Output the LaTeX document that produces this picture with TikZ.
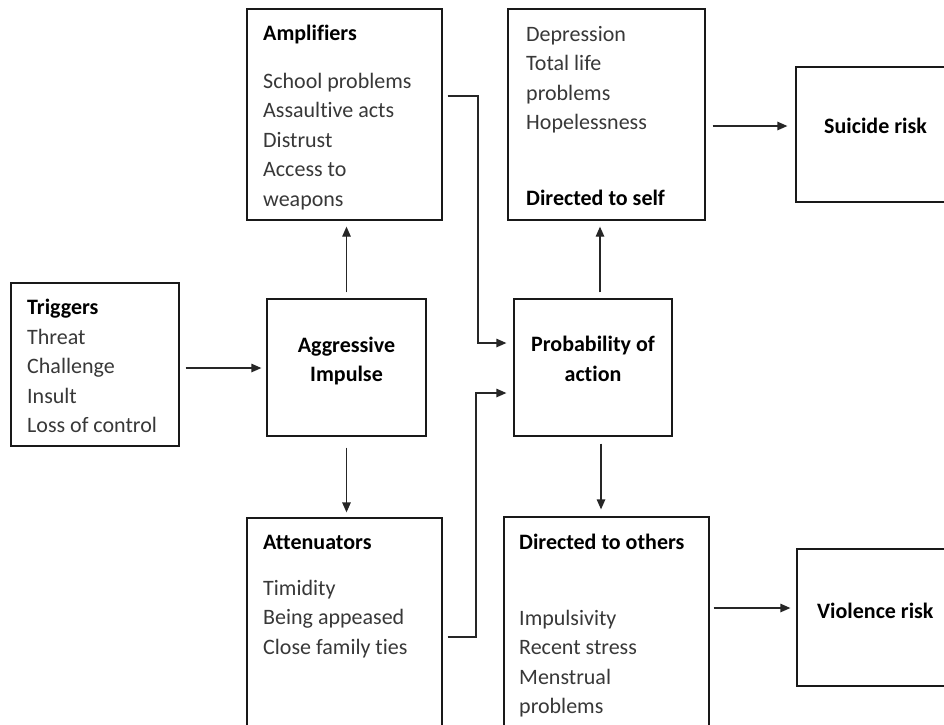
\documentclass[tikz,border=0pt]{standalone}
\usepackage{fontspec}
\setmainfont{Carlito}[Ligatures={NoCommon,NoContextual}]
\usetikzlibrary{arrows.meta}
\tikzset{
  box/.style={draw=black!90, line width=1.3pt, rectangle, inner sep=0pt},
  item/.style={anchor=base west, inner sep=0pt, text=black!78, font=\fontsize{22}{26}\selectfont},
  head/.style={anchor=base west, inner sep=0pt, text=black, font=\fontsize{22}{26}\selectfont\bfseries},
  ctr/.style={anchor=base, inner sep=0pt, text=black, font=\fontsize{22}{26}\selectfont\bfseries},
  conn/.style={line width=1.3pt, draw=black!85, -{Triangle[length=10pt,width=8.5pt]}},
}
\begin{document}
\begin{tikzpicture}[x=1pt,y=-1pt]
\clip (0,0) rectangle (944,724);
\fill[white] (0,0) rectangle (944,724);

% boxes
\node[box, minimum width=168pt, minimum height=163pt] (trig) at (95,364.5) {};
\node[box, minimum width=159pt, minimum height=137pt] (ai)   at (346.5,367.5) {};
\node[box, minimum width=195pt, minimum height=211pt] (amp)  at (344.5,114.5) {};
\node[box, minimum width=195pt, minimum height=217pt] (att)  at (344.5,626.5) {};
\node[box, minimum width=158pt, minimum height=137pt] (prob) at (593,367.5) {};
\node[box, minimum width=197pt, minimum height=211pt] (self) at (606.5,114.5) {};
\node[box, minimum width=205pt, minimum height=218pt] (oth)  at (606.5,626) {};
\node[box, minimum width=164pt, minimum height=135pt] (sui)  at (878,134.5) {};
\node[box, minimum width=163pt, minimum height=137pt] (vio)  at (878.5,617.5) {};

% triggers
\node[head] (trig-h) at (27,314) {Triggers};
\foreach \t [count=\i from 0] in {Threat, Challenge, Insult, Loss of control}
  \node[item] (trig-\i) at (27,{344+29.5*\i}) {\t};

% aggressive impulse
\node[ctr] (ai-1) at (346.5,352) {Aggressive};
\node[ctr] (ai-2) at (346.5,381) {Impulse};

% amplifiers
\node[head] (amp-h) at (263,40) {Amplifiers};
\foreach \t [count=\i from 0] in {School problems, Assaultive acts, Distrust, Access to, weapons}
  \node[item] (amp-\i) at (263,{88+29.5*\i}) {\t};

% attenuators
\node[head] (att-h) at (263,549) {Attenuators};
\foreach \t [count=\i from 0] in {Timidity, Being appeased, Close family ties}
  \node[item] (att-\i) at (263,{595+29.5*\i}) {\t};

% probability of action
\node[ctr] (prob-1) at (593,351) {Probability of};
\node[ctr] (prob-2) at (593,381) {action};

% directed to self
\foreach \t [count=\i from 0] in {Depression, Total life, problems, Hopelessness}
  \node[item] (self-\i) at (526,{41+29.5*\i}) {\t};
\node[head] (self-h) at (526,205) {Directed to self};

% directed to others
\node[head] (oth-h) at (519,549) {Directed to others};
\foreach \t [count=\i from 0] in {Impulsivity, Recent stress, Menstrual, problems}
  \node[item] (oth-\i) at (519,{625+29.5*\i}) {\t};

% outcomes
\node[head] (sui-t) at (824,133) {Suicide risk};
\node[head] (vio-t) at (817,618) {Violence risk};

% connectors
\draw[conn, shorten <=6pt, shorten >=5pt] (trig.east |- 0,368) -- (ai.west |- 0,368);
\draw[conn, shorten <=6pt, shorten >=6pt] (ai.north) -- (ai.north |- amp.south);
\draw[conn, shorten <=11pt, shorten >=5pt] (ai.south) -- (ai.south |- att.north);
\draw[conn, shorten <=5pt, shorten >=7pt] (amp.east |- 0,96) -| (478,343) -- (prob.west |- 0,343);
\draw[conn, shorten <=5pt, shorten >=7pt] (att.east |- 0,637) -| (476,393) -- (prob.west |- 0,393);
\draw[conn, shorten <=6pt, shorten >=6pt] (prob.north -| 600,0) -- (self.south -| 600,0);
\draw[conn, shorten <=7pt, shorten >=7pt] (prob.south -| 601,0) -- (oth.north -| 601,0);
\draw[conn, shorten <=7pt, shorten >=8pt] (self.east |- 0,126) -- (sui.west |- 0,126);
\draw[conn, shorten <=4pt, shorten >=6pt] (oth.east |- 0,608) -- (vio.west |- 0,608);
\end{tikzpicture}
\end{document}
